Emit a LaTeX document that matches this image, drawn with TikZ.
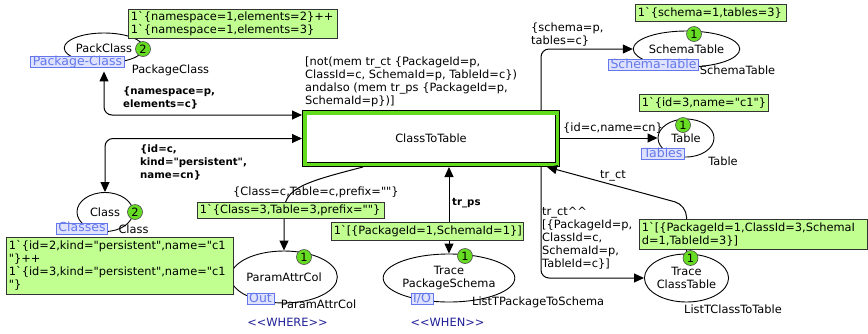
\documentclass[tikz,border=0pt]{standalone}
\usepackage{fontspec}
\setmainfont{DejaVu Sans}[Ligatures=TeXOff]
\usetikzlibrary{shapes.geometric,arrows.meta}

\definecolor{transgreen}{RGB}{100,220,30}
\definecolor{tokengreen}{RGB}{102,221,34}
\definecolor{markfill}{RGB}{192,255,144}
\definecolor{portblue}{RGB}{100,120,235}
\definecolor{portfill}{RGB}{222,226,255}
\definecolor{tagblue}{RGB}{30,30,150}

\newcommand{\cpnfont}{\fontsize{11.4}{13}\selectfont}
\newcommand{\cpnbold}{\fontsize{10.2}{13}\selectfont\bfseries}

\tikzset{
    place/.style={draw, ellipse, line width=0.9pt, inner sep=0pt, align=center},
    trans/.style={rectangle, draw=black, double=transgreen, double distance=3.8pt, line width=0.7pt, fill=white, outer sep=2.6pt},
    token/.style={circle, draw=black!70, fill=tokengreen, inner sep=0pt, minimum size=15pt, line width=0.6pt},
    markbox/.style={draw=black!80, fill=markfill, anchor=north west, inner xsep=2.5pt, inner ysep=1pt, align=left, line width=0.7pt},
    portlbl/.style={draw=portblue, fill=portfill, text=portblue, font=\fontsize{12.5}{14}\selectfont, inner xsep=2.2pt, inner ysep=0.5pt, text height=8.2pt, text depth=1.6pt, line width=0.7pt},
    typelbl/.style={inner sep=0pt},
    inscr/.style={inner sep=0pt, align=left, anchor=north west},
    tag/.style={text=tagblue, inner sep=0pt},
    arc/.style={-{Triangle[length=10pt,width=9pt]}, line width=1pt},
    biarc/.style={{Triangle[length=10pt,width=9pt]}-{Triangle[length=10pt,width=9pt]}, line width=1pt},
}

\begin{document}
\begin{tikzpicture}[x=1pt, y=-1pt, font=\cpnfont]
    \useasboundingbox (0,0) rectangle (868,333);

    \node[place, minimum width=74pt, minimum height=30pt] (pc) at (104,48) {PackClass};
    \node[place, minimum width=56pt, minimum height=39pt] (cl) at (105,212) {Class};
    \node[place, minimum width=92pt, minimum height=52pt] (pa) at (284,277) {ParamAttrCol};
    \node[place, minimum width=120pt, minimum height=48pt] (tp) at (449,278) {Trace\\PackageSchema};
    \node[place, minimum width=85pt, minimum height=36pt] (st) at (686.5,49) {SchemaTable};
    \node[place, minimum width=56pt, minimum height=38pt] (tb) at (686,138) {Table};
    \node[place, minimum width=83pt, minimum height=48pt] (tc) at (686.5,278) {Trace\\ClassTable};

    \node[trans, minimum width=252.8pt, minimum height=51.8pt] (ct) at (431,138.5) {ClassToTable};

    \draw[biarc, rounded corners=8pt] ([yshift=-8pt]pc.south) |- ([yshift=23.5pt]ct.west);
    \draw[biarc, rounded corners=8pt] (ct.west) -| (cl.north);
    \draw[arc] ([xshift=-68pt]ct.south) .. controls (305,182) and (284,188) .. (284,212) -- (pa.north);
    \draw[biarc] (ct.south -| tp.north) -- (tp.north);
    \draw[arc, rounded corners=8pt] ([xshift=110pt]ct.north) |- (st.west);
    \draw[arc] (ct.east |- tb.west) -- (tb.west);
    \draw[arc, rounded corners=12pt] (tc.north) -- (tc.north |- 0,205) -- ([xshift=116pt]ct.south);
    \draw[arc, rounded corners=8pt] ([xshift=110pt]ct.south) |- (tc.west);

    \node[inscr] (guard) at (305,56.5) {[not(mem tr\_ct \{PackageId=p,\\ClassId=c, SchemaId=p, TableId=c\})\\andalso (mem tr\_ps \{PackageId=p,\\SchemaId=p\})]};
    \node[inscr, font=\cpnbold] (pcarc) at (123,87) {\{namespace=p,\\elements=c\}};
    \node[inscr, font=\cpnbold] (clarc) at (140,144.5) {\{id=c,\\kind="persistent",\\name=cn\}};
    \node[typelbl, anchor=west] (paarc) at (233,192) {\{Class=c,Table=c,prefix=""\}};
    \node[typelbl, anchor=west, font=\cpnbold] (tparc) at (452,203) {tr\_ps};
    \node[inscr] (starc) at (531,22.5) {\{schema=p,\\tables=c\}};
    \node[typelbl, anchor=west] (tbarc) at (563,128) {\{id=c,name=cn\}};
    \node[typelbl, anchor=west] (tcin) at (600,176) {tr\_ct};
    \node[inscr] (tcout) at (542,206.5) {tr\_ct\textasciicircum\textasciicircum\\{}[\{PackageId=p,\\ClassId=c,\\SchemaId=p,\\TableId=c\}]};

    \node[portlbl] (pcport) at (77.5,62) {Package-Class};
    \node[portlbl] (clport) at (82,228.5) {Classes};
    \node[portlbl] (paport) at (260.5,299) {Out};
    \node[portlbl] (tpport) at (422,299) {I/O};
    \node[portlbl] (stport) at (653.5,65) {Schema-Table};
    \node[portlbl] (tbport) at (663,154) {Tables};

    \node[typelbl] (pctype) at (170.5,70) {PackageClass};
    \node[typelbl] (cltype) at (133.5,229) {Class};
    \node[typelbl] (patype) at (318.5,304) {ParamAttrCol};
    \node[typelbl, anchor=west] (tptype) at (472,302) {ListTPackageToSchema};
    \node[typelbl] (sttype) at (737.5,70) {SchemaTable};
    \node[typelbl] (tbtype) at (723,161) {Table};
    \node[typelbl] (tctype) at (733,309) {ListTClassToTable};

    \node[tag] (where) at (287.5,322) {<<WHERE>>};
    \node[tag] (when) at (447.5,322) {<<WHEN>>};

    \node[token] (pctok) at (143,49) {2};
    \node[token] (cltok) at (135,212) {2};
    \node[token] (patok) at (304,257) {1};
    \node[token] (tptok) at (465,256) {1};
    \node[token] (sttok) at (694,34) {1};
    \node[token] (tbtok) at (683,125) {1};
    \node[token] (tctok) at (690.5,258) {1};

    \node[markbox, text width=204pt, minimum height=29pt] (pcmark) at (128,9) {1`\{namespace=1,elements=2\}++\\1`\{namespace=1,elements=3\}};
    \node[markbox, text width=222pt, minimum height=57pt] (clmark) at (6,237) {1`\{id=2,kind="persistent",name="c1\\"\}++\\1`\{id=3,kind="persistent",name="c1\\"\}};
    \node[markbox, text width=182pt, minimum height=16pt] (pamark) at (197,202) {1`\{Class=3,Table=3,prefix=""\}};
    \node[markbox, text width=187pt, minimum height=18pt] (tpmark) at (331,222) {1`[\{PackageId=1,SchemaId=1\}]};
    \node[markbox, text width=146pt, minimum height=17pt] (stmark) at (635,4) {1`\{schema=1,tables=3\}};
    \node[markbox, text width=124pt, minimum height=17pt] (tbmark) at (639,94) {1`\{id=3,name="c1"\}};
    \node[markbox, text width=223pt, minimum height=30pt] (tcmark) at (639,219) {1`[\{PackageId=1,ClassId=3,SchemaI\\d=1,TableId=3\}]};
\end{tikzpicture}
\end{document}
